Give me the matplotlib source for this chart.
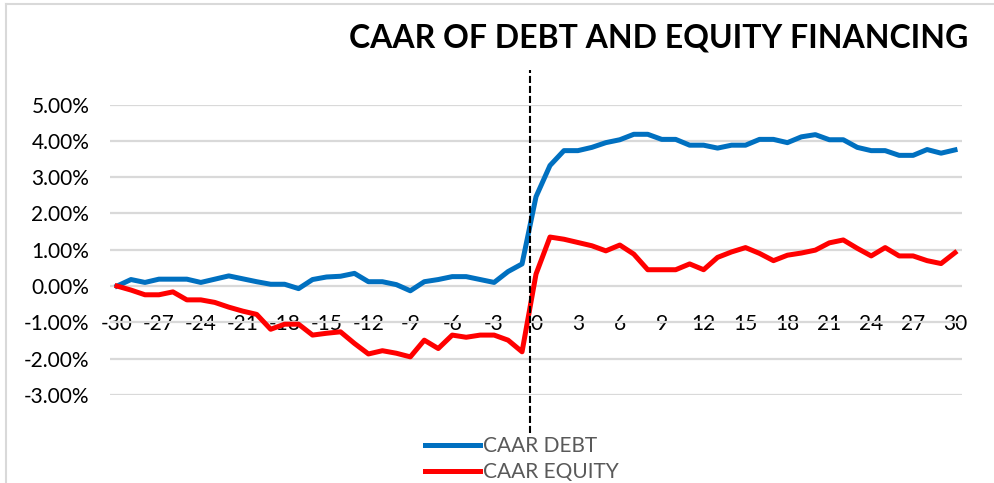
import matplotlib

matplotlib.use("Agg")
import matplotlib.pyplot as plt
from matplotlib.lines import Line2D
from matplotlib.ticker import FuncFormatter, MultipleLocator

# event window (days) and cumulative average abnormal returns, in %
days = list(range(-30, 31))
caar_debt = [
    0.00, 0.18, 0.10, 0.19, 0.19, 0.19, 0.10, 0.19, 0.28, 0.20,
    0.12, 0.05, 0.05, -0.07, 0.18, 0.25, 0.27, 0.35, 0.12, 0.12,
    0.04, -0.13, 0.12, 0.18, 0.26, 0.26, 0.18, 0.10, 0.40, 0.61,
    2.46, 3.32, 3.73, 3.73, 3.82, 3.95, 4.03, 4.18, 4.18, 4.04,
    4.04, 3.88, 3.88, 3.80, 3.88, 3.88, 4.04, 4.04, 3.95, 4.11,
    4.17, 4.03, 4.03, 3.82, 3.73, 3.73, 3.60, 3.60, 3.76, 3.66,
    3.75,
]
caar_equity = [
    0.00, -0.11, -0.24, -0.24, -0.16, -0.38, -0.38, -0.45, -0.58, -0.69,
    -0.78, -1.19, -1.05, -1.05, -1.35, -1.30, -1.26, -1.58, -1.87, -1.78,
    -1.85, -1.95, -1.49, -1.72, -1.35, -1.41, -1.35, -1.35, -1.49, -1.81,
    0.33, 1.35, 1.29, 1.20, 1.11, 0.97, 1.13, 0.88, 0.45, 0.45,
    0.45, 0.61, 0.45, 0.79, 0.94, 1.06, 0.90, 0.70, 0.85, 0.91,
    0.99, 1.19, 1.27, 1.04, 0.83, 1.06, 0.83, 0.83, 0.70, 0.62,
    0.92,
]
series_labels = ["CAAR DEBT", "CAAR EQUITY"]
title = "CAAR OF DEBT AND EQUITY FINANCING"
event_day = -0.45

BLUE = "#0070C0"
RED = "#FF0000"
GRID = "#D9D9D9"

plt.rcParams["font.family"] = ["Lato", "DejaVu Sans"]
plt.rcParams["axes.unicode_minus"] = False

fig = plt.figure(figsize=(9.94, 4.83), dpi=100)
ax = fig.add_axes([0.1107, 0.1822, 0.8571, 0.6014])

ax.plot(days, caar_debt, color=BLUE, lw=3.6, label=series_labels[0], solid_joinstyle="round")
ax.plot(days, caar_equity, color=RED, lw=3.6, label=series_labels[1], solid_joinstyle="round")

# event-day marker, reaching above and below the plot area
ax.axvline(event_day, ymin=-0.13, ymax=1.12, color="black", lw=1.5,
           dashes=(3.4, 1.4), clip_on=False, zorder=5)

ax.set_xlim(-30.5, 30.5)
ax.set_ylim(-3, 5)
ax.xaxis.set_major_locator(MultipleLocator(3))
ax.yaxis.set_major_locator(MultipleLocator(1))
ax.yaxis.set_major_formatter(FuncFormatter(lambda v, _: f"{v:.2f}%"))

for side in ax.spines:
    ax.spines[side].set_visible(False)
ax.spines["bottom"].set_position(("data", 0))
ax.tick_params(axis="x", length=0, pad=20, labelsize=15, colors="black")
ax.tick_params(axis="y", length=0, pad=15, labelsize=15, colors="black")
ax.yaxis.grid(True, color=GRID, lw=1.6)
ax.set_axisbelow(True)

fig.text(0.974, 0.921, title, ha="right", va="center", fontsize=23, fontweight="bold")

leg = fig.legend(loc="upper left", bbox_to_anchor=(0.428, 0.097), frameon=False,
                 fontsize=15, handlelength=2.6, handletextpad=0.15, labelspacing=0.3,
                 borderpad=0, borderaxespad=0)
for t in leg.get_texts():
    t.set_color("#595959")

# chart-area border (left and top edges visible in the crop)
fig.add_artist(Line2D([0.006, 0.006], [0, 0.992], transform=fig.transFigure, color=GRID, lw=1.5))
fig.add_artist(Line2D([0.006, 1], [0.992, 0.992], transform=fig.transFigure, color=GRID, lw=1.5))

fig.savefig("out.png", dpi=100)
